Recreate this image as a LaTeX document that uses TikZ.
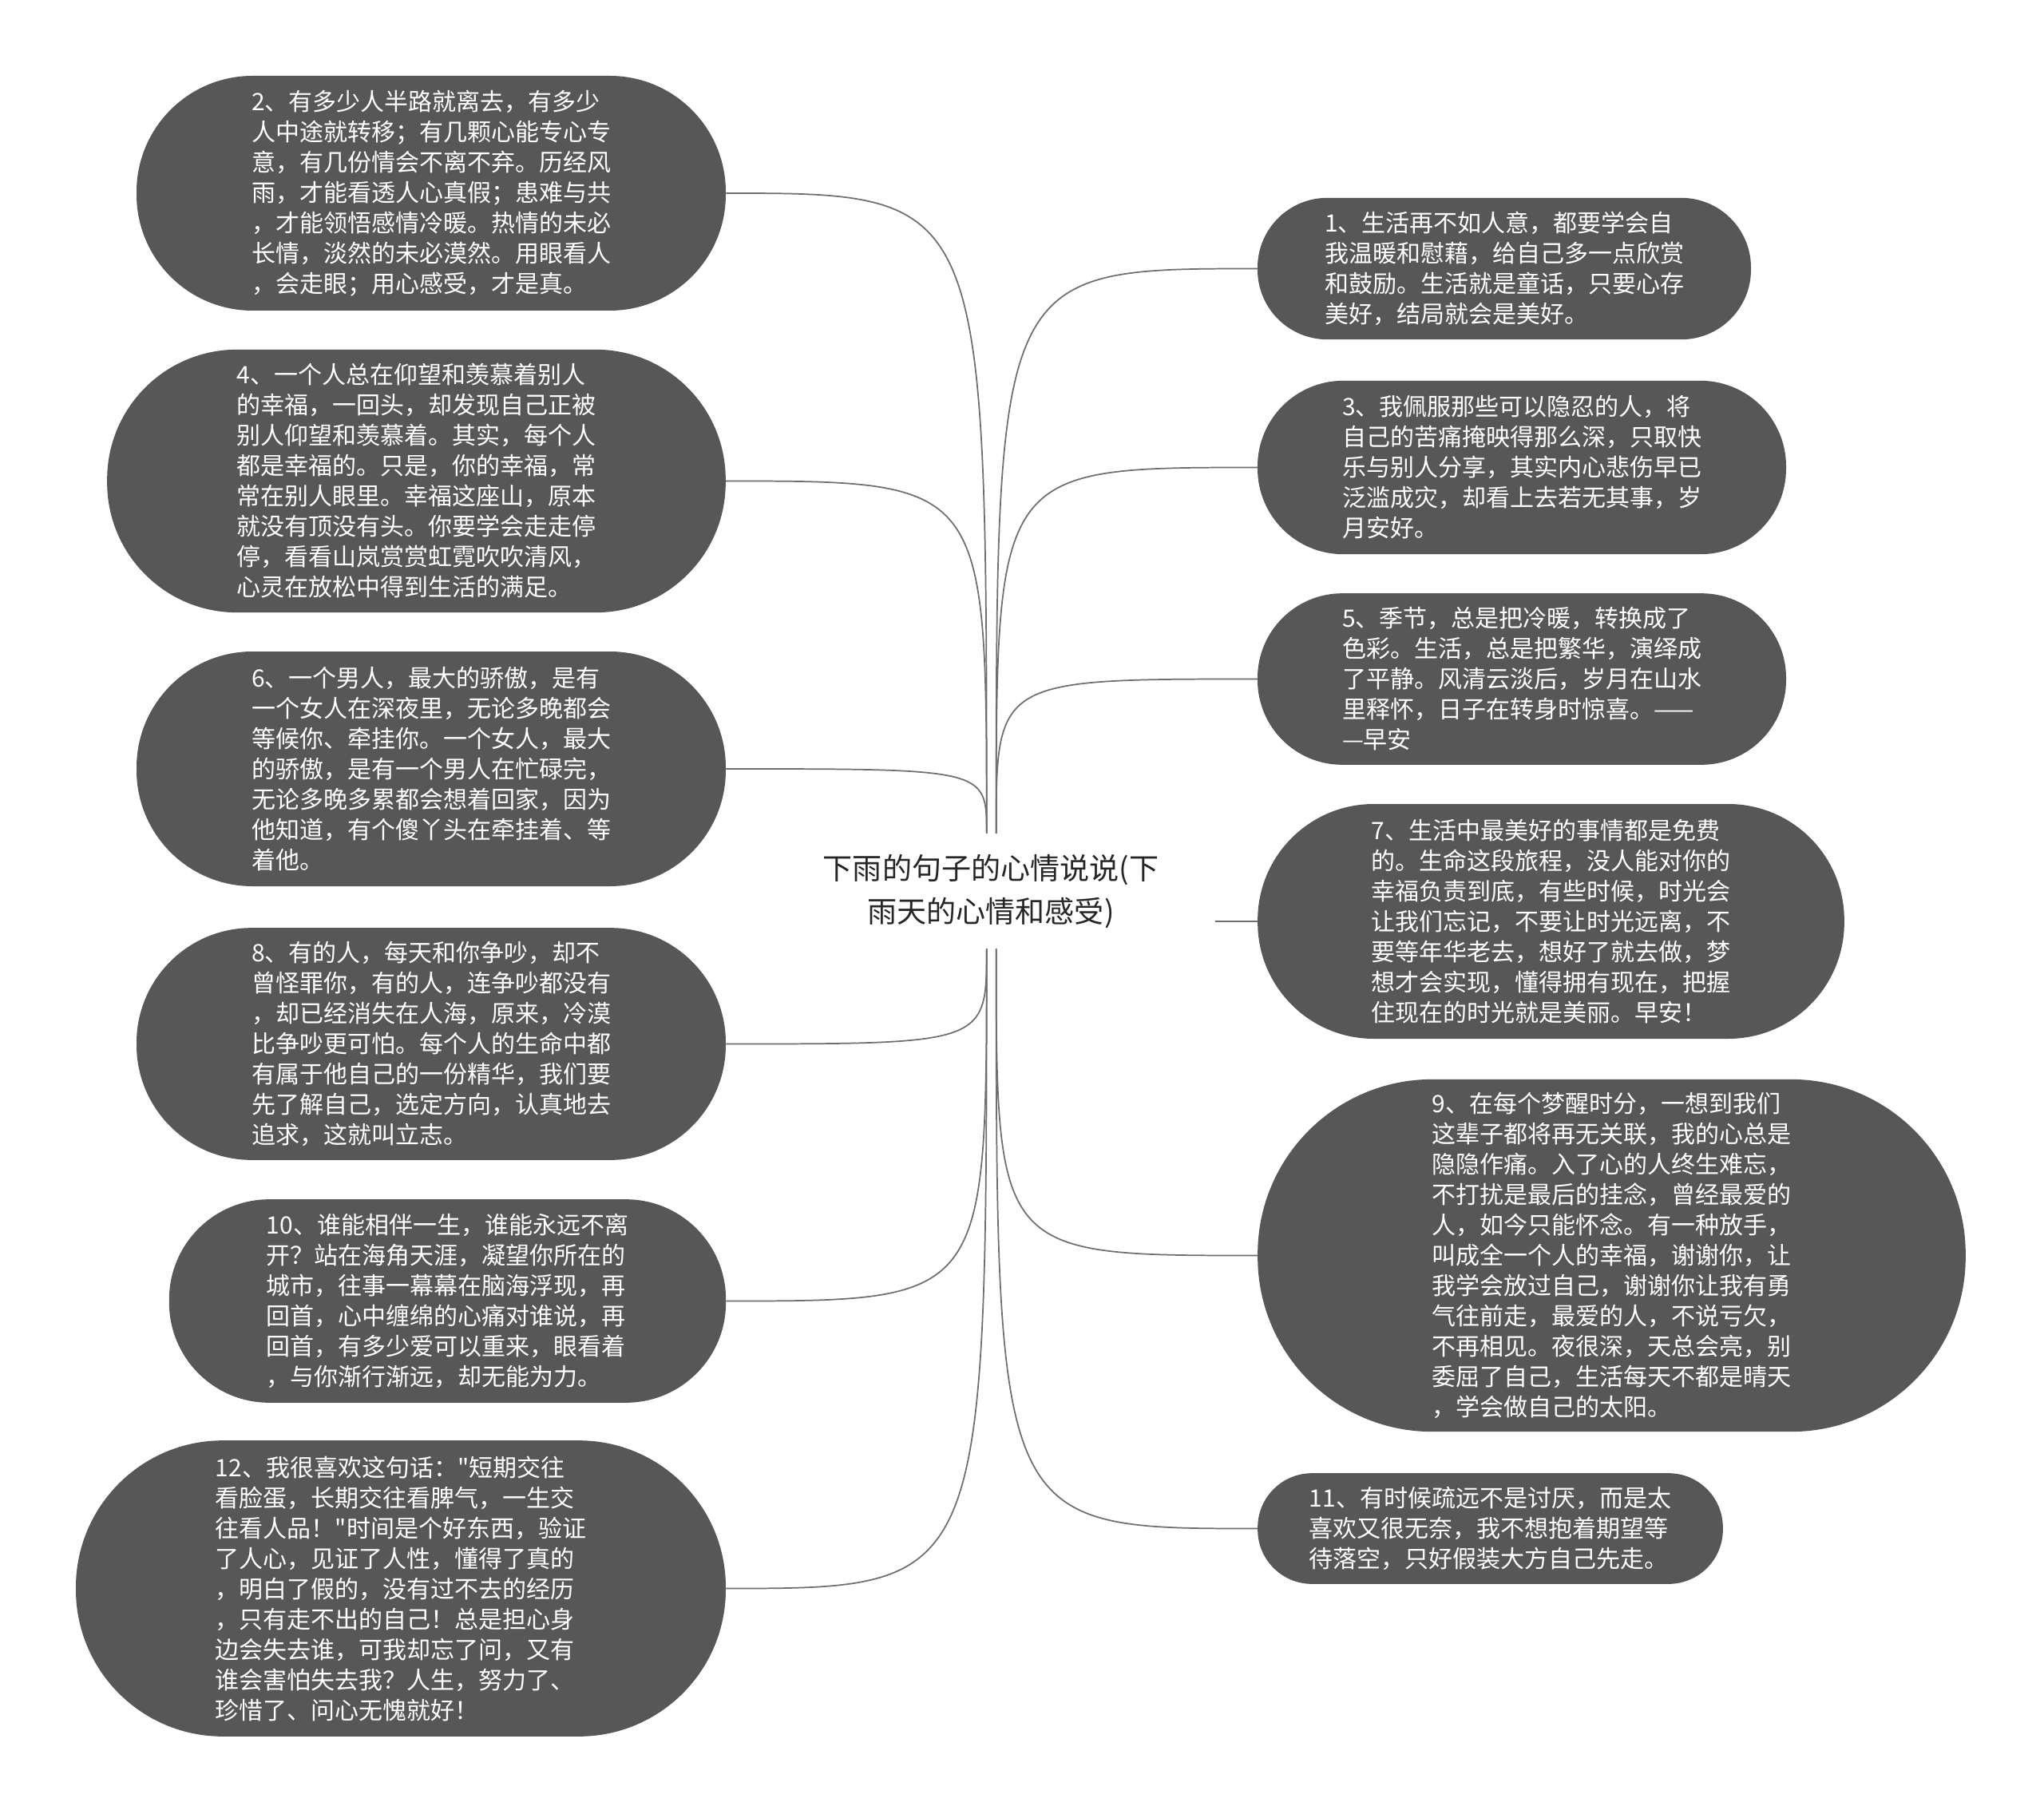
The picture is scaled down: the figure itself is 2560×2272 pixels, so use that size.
\documentclass[tikz,border=0pt]{standalone}
\usepackage{fontspec}
\setmainfont{Noto Sans CJK SC}[Ligatures=TeXOff]
\definecolor{nodegray}{HTML}{575757}
\definecolor{linegray}{HTML}{6E6E6E}
\begin{document}
\begin{tikzpicture}[x=0.75pt,y=-0.75pt,
  bubble/.style={fill=nodegray, text=white, align=left, inner sep=0pt,
    font=\fontsize{22.5pt}{28.5pt}\selectfont},
  sz/.style n args={3}{minimum width=#1pt, minimum height=#2pt, rounded corners=#3pt},
  rootnode/.style={align=center, inner sep=0pt, text=black!85,
    font=\fontsize{27.8pt}{40.5pt}\selectfont},
  link/.style={draw=linegray, line width=1.3pt}]
\fill[white] (0,0) rectangle (2560,2272);
\useasboundingbox (0,0) rectangle (2560,2272);

\node[rootnode, minimum width=421pt, minimum height=108pt] (root) at (1241,1116)
  {下雨的句子的心情说说(下\\雨天的心情和感受)};

% left nodes
\node[bubble, sz={553.5}{220.5}{109}] (n2) at (540,242) {2、有多少人半路就离去，有多少\\人中途就转移；有几颗心能专心专\\意，有几份情会不离不弃。历经风\\雨，才能看透人心真假；患难与共\\，才能领悟感情冷暖。热情的未必\\长情，淡然的未必漠然。用眼看人\\，会走眼；用心感受，才是真。};
\node[bubble, sz={581}{247}{122}] (n4) at (521.5,602.5) {4、一个人总在仰望和羡慕着别人\\的幸福，一回头，却发现自己正被\\别人仰望和羡慕着。其实，每个人\\都是幸福的。只是，你的幸福，常\\常在别人眼里。幸福这座山，原本\\就没有顶没有头。你要学会走走停\\停，看看山岚赏赏虹霓吹吹清风，\\心灵在放松中得到生活的满足。};
\node[bubble, sz={553.5}{220.5}{109}] (n6) at (540,963) {6、一个男人，最大的骄傲，是有\\一个女人在深夜里，无论多晚都会\\等候你、牵挂你。一个女人，最大\\的骄傲，是有一个男人在忙碌完，\\无论多晚多累都会想着回家，因为\\他知道，有个傻丫头在牵挂着、等\\着他。};
\node[bubble, sz={553.5}{218}{108}] (n8) at (540,1307.5) {8、有的人，每天和你争吵，却不\\曾怪罪你，有的人，连争吵都没有\\，却已经消失在人海，原来，冷漠\\比争吵更可怕。每个人的生命中都\\有属于他自己的一份精华，我们要\\先了解自己，选定方向，认真地去\\追求，这就叫立志。};
\node[bubble, sz={523}{191}{94}] (n10) at (560.5,1629.5) {10、谁能相伴一生，谁能永远不离\\开？站在海角天涯，凝望你所在的\\城市，往事一幕幕在脑海浮现，再\\回首，心中缠绵的心痛对谁说，再\\回首，有多少爱可以重来，眼看着\\，与你渐行渐远，却无能为力。};
\node[bubble, sz={610.5}{278}{138}] (n12) at (502,1989.5) {12、我很喜欢这句话："短期交往\\看脸蛋，长期交往看脾气，一生交\\往看人品！"时间是个好东西，验证\\了人心，见证了人性，懂得了真的\\，明白了假的，没有过不去的经历\\，只有走不出的自己！总是担心身\\边会失去谁，可我却忘了问，又有\\谁会害怕失去我？人生，努力了、\\珍惜了、问心无愧就好！};

% right nodes
\node[bubble, sz={463.5}{133}{65.5}] (n1) at (1884,336.5) {1、生活再不如人意，都要学会自\\我温暖和慰藉，给自己多一点欣赏\\和鼓励。生活就是童话，只要心存\\美好，结局就会是美好。};
\node[bubble, sz={496.5}{163}{80.5}] (n3) at (1906,585.5) {3、我佩服那些可以隐忍的人，将\\自己的苦痛掩映得那么深，只取快\\乐与别人分享，其实内心悲伤早已\\泛滥成灾，却看上去若无其事，岁\\月安好。};
\node[bubble, sz={496.5}{161}{79.5}] (n5) at (1906,850.5) {5、季节，总是把冷暖，转换成了\\色彩。生活，总是把繁华，演绎成\\了平静。风清云淡后，岁月在山水\\里释怀，日子在转身时惊喜。——\\—早安};
\node[bubble, sz={551}{220.5}{109}] (n7) at (1942.5,1154) {7、生活中最美好的事情都是免费\\的。生命这段旅程，没人能对你的\\幸福负责到底，有些时候，时光会\\让我们忘记，不要让时光远离，不\\要等年华老去，想好了就去做，梦\\想才会实现，懂得拥有现在，把握\\住现在的时光就是美丽。早安！};
\node[bubble, sz={665}{331}{164}] (n9) at (2018.5,1572.5) {9、在每个梦醒时分，一想到我们\\这辈子都将再无关联，我的心总是\\隐隐作痛。入了心的人终生难忘，\\不打扰是最后的挂念，曾经最爱的\\人，如今只能怀念。有一种放手，\\叫成全一个人的幸福，谢谢你，让\\我学会放过自己，谢谢你让我有勇\\气往前走，最爱的人，不说亏欠，\\不再相见。夜很深，天总会亮，别\\委屈了自己，生活每天不都是晴天\\，学会做自己的太阳。};
\node[bubble, sz={437}{104}{51}] (n11) at (1866.5,1914.5) {11、有时候疏远不是讨厌，而是太\\喜欢又很无奈，我不想抱着期望等\\待落空，只好假装大方自己先走。};

% connector anchors
\coordinate (tl) at ([xshift=-4pt]root.north);
\coordinate (tr) at ([xshift=5pt]root.north);
\coordinate (bl) at ([xshift=-4pt]root.south);
\coordinate (br) at ([xshift=5pt]root.south);

\foreach \n in {n2,n4,n6}
  \draw[link] (tl) .. controls (tl |- \n.east) .. (\n.east);
\foreach \n in {n8,n10,n12}
  \draw[link] (bl) .. controls (bl |- \n.east) .. (\n.east);
\foreach \n in {n1,n3,n5}
  \draw[link] (tr) .. controls (tr |- \n.west) .. (\n.west);
\foreach \n in {n9,n11}
  \draw[link] (br) .. controls (br |- \n.west) .. (\n.west);
\draw[link] (root.east |- n7.west) -- (n7.west);
\end{tikzpicture}
\end{document}
